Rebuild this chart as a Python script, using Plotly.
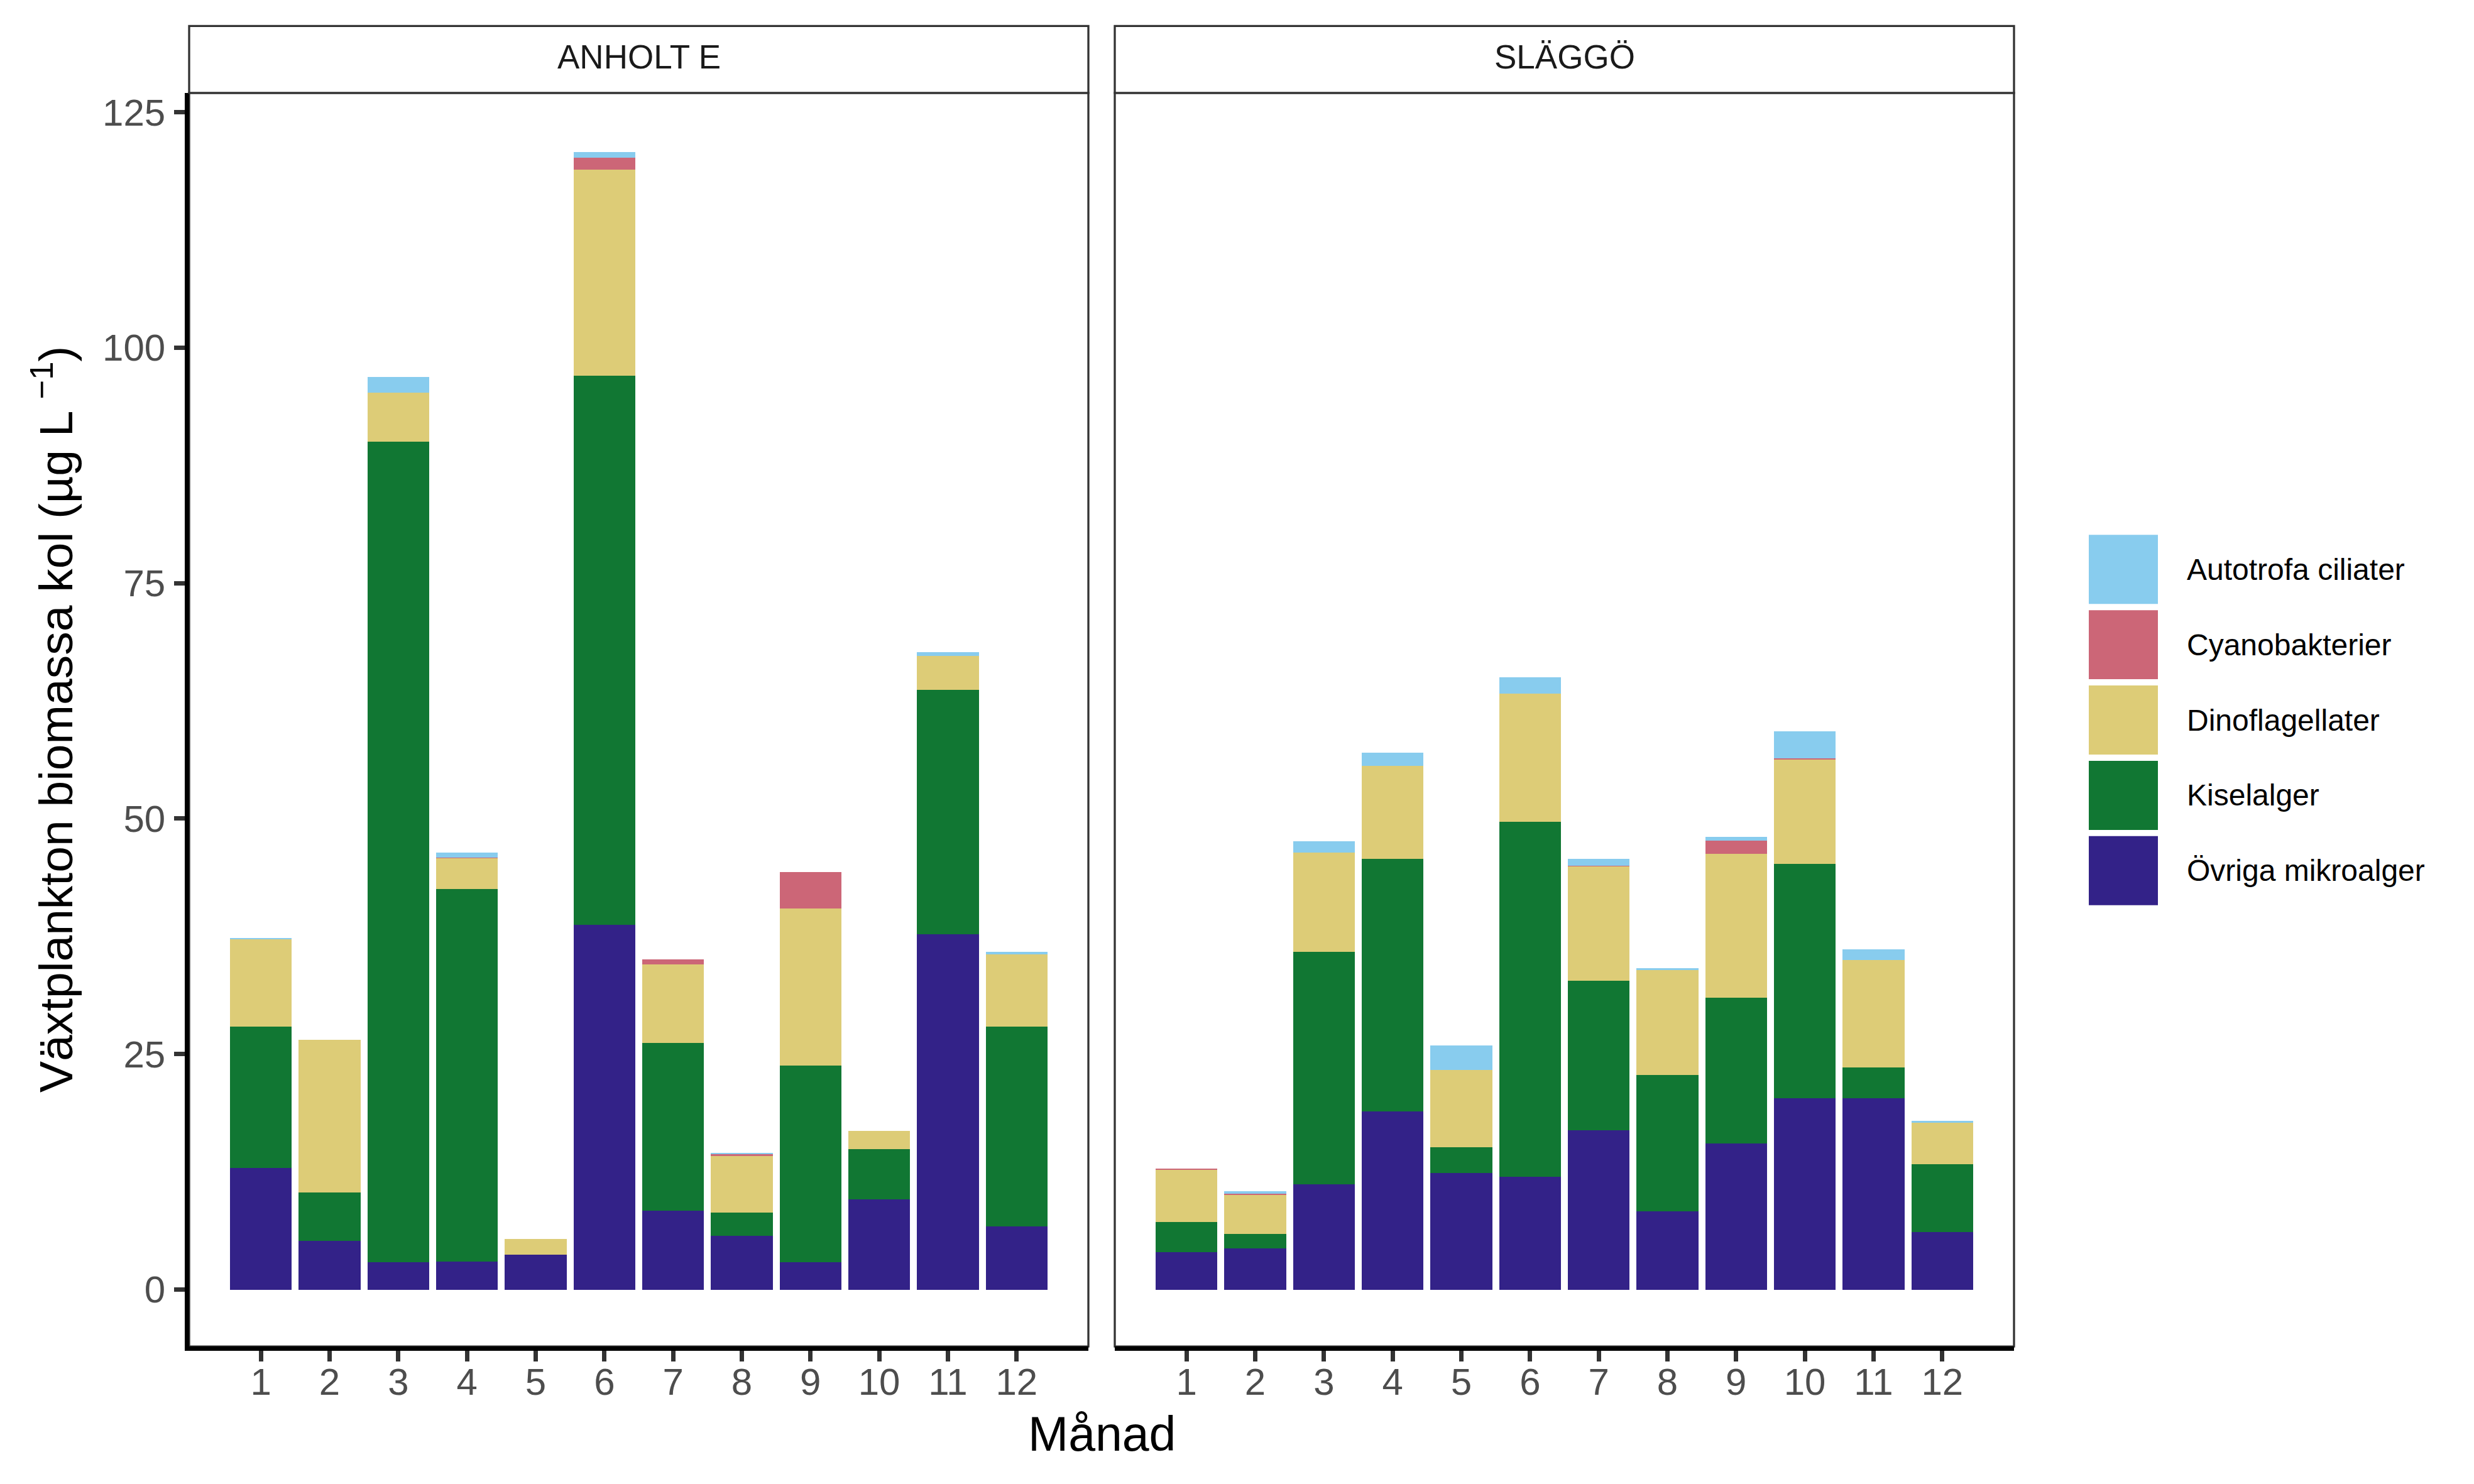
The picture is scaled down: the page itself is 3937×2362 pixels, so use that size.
import plotly.graph_objects as go

W, H = 3937, 2362

months = list(range(1, 13))
stations = ["ANHOLT E", "SLÄGGÖ"]
series_names = ["Övriga mikroalger", "Kiselalger", "Dinoflagellater", "Cyanobakterier", "Autotrofa ciliater"]
series_colors = ["#332288", "#117733", "#DDCC77", "#CC6677", "#88CCEE"]

# ANHOLT E (µg C/L per group, stacked bottom -> top)
anholt_ovriga = [12.9, 5.2, 2.9, 3.0, 3.7, 38.7, 8.4, 5.7, 2.9, 9.6, 37.7, 6.7]
anholt_kisel = [15.0, 5.1, 87.1, 39.5, 0.0, 58.3, 17.8, 2.5, 20.9, 5.3, 26.0, 21.2]
anholt_dino = [9.3, 16.2, 5.2, 3.35, 1.65, 21.9, 8.3, 6.0, 16.65, 1.95, 3.6, 7.7]
anholt_cyano = [0.0, 0.0, 0.0, 0.05, 0.0, 1.3, 0.55, 0.15, 3.9, 0.0, 0.0, 0.0]
anholt_auto = [0.15, 0.0, 1.7, 0.5, 0.0, 0.6, 0.0, 0.15, 0.0, 0.0, 0.4, 0.25]

# SLÄGGÖ
slaggo_ovriga = [4.0, 4.4, 11.2, 18.9, 12.35, 12.0, 16.9, 8.3, 15.5, 20.3, 20.3, 6.1]
slaggo_kisel = [3.2, 1.5, 24.65, 26.85, 2.75, 37.65, 15.9, 14.5, 15.5, 24.9, 3.3, 7.2]
slaggo_dino = [5.5, 4.2, 10.55, 9.85, 8.2, 13.65, 12.15, 11.1, 15.3, 11.1, 11.4, 4.45]
slaggo_cyano = [0.15, 0.05, 0.0, 0.0, 0.0, 0.0, 0.05, 0.0, 1.4, 0.1, 0.0, 0.0]
slaggo_auto = [0.0, 0.3, 1.2, 1.4, 2.65, 1.7, 0.75, 0.2, 0.35, 2.9, 1.1, 0.2]

y_ticks = [0, 25, 50, 75, 100, 125]

panel_data = [
    [anholt_ovriga, anholt_kisel, anholt_dino, anholt_cyano, anholt_auto],
    [slaggo_ovriga, slaggo_kisel, slaggo_dino, slaggo_cyano, slaggo_auto],
]

FONT = "Liberation Sans, Arial, Helvetica, sans-serif"


def px_x(px):
    return px / W


def px_y(py):
    return 1 - py / H


fig = go.Figure()
axes = [("x", "y"), ("x2", "y2")]
for p, (xa, ya) in enumerate(axes):
    for s, name in enumerate(series_names):
        fig.add_trace(go.Bar(
            x=months, y=panel_data[p][s], name=name, width=0.9,
            marker=dict(color=series_colors[s], line=dict(width=0)),
            xaxis=xa, yaxis=ya, showlegend=False,
        ))

panel_top, panel_bot = 146, 2143
x_domains = [[px_x(301), px_x(1732)], [px_x(1774), px_x(3205)]]
y_domain = [px_y(panel_bot), px_y(panel_top)]

tick_common = dict(ticks="outside", ticklen=17, tickwidth=7, tickcolor="#333333",
                   tickfont=dict(family=FONT, size=60, color="#4D4D4D"),
                   showgrid=False, zeroline=False)

fig.update_layout(
    width=W, height=H, margin=dict(l=0, r=0, t=0, b=0),
    paper_bgcolor="white", plot_bgcolor="white", barmode="stack", bargap=0,
    font=dict(family=FONT),
    xaxis=dict(domain=x_domains[0], range=[-0.045, 13.045], tickvals=months, anchor="y",
               showline=True, linecolor="black", linewidth=6.6, ticklabelstandoff=-19, **tick_common),
    xaxis2=dict(domain=x_domains[1], range=[-0.045, 13.045], tickvals=months, anchor="y2",
                showline=True, linecolor="black", linewidth=6.6, ticklabelstandoff=-19, **tick_common),
    yaxis=dict(domain=y_domain, range=[-6.05, 127.05], tickvals=y_ticks, anchor="x",
               showline=True, linecolor="black", linewidth=6.6, ticklabelstandoff=2, **tick_common),
    yaxis2=dict(domain=y_domain, range=[-6.05, 127.05], anchor="x2", matches="y",
                showticklabels=False, ticks="", showline=False, showgrid=False, zeroline=False),
)

shapes = []
annotations = []
for p, (xa, ya) in enumerate(axes):
    # panel border
    shapes.append(dict(type="rect", xref=f"{xa} domain", yref=f"{ya} domain",
                       x0=0, x1=1, y0=0, y1=1, line=dict(color="#333333", width=3.3),
                       fillcolor="rgba(0,0,0,0)", layer="below"))
    # strip
    shapes.append(dict(type="rect", xref=f"{xa} domain", yref="paper",
                       x0=0, x1=1, y0=px_y(146), y1=px_y(39.5),
                       line=dict(color="#333333", width=3.3), fillcolor="white", layer="above"))
    annotations.append(dict(text=stations[p], xref=f"{xa} domain", yref="paper",
                            x=0.5, y=px_y(89), showarrow=False, xanchor="center", yanchor="middle",
                            font=dict(family=FONT, size=53, color="#1A1A1A")))

# legend (drawn manually, top to bottom)
legend_order = [4, 3, 2, 1, 0]
for i, s in enumerate(legend_order):
    top = 850 + 120 * i
    shapes.append(dict(type="rect", xref="paper", yref="paper",
                       x0=px_x(3324), x1=px_x(3434), y0=px_y(top + 110), y1=px_y(top),
                       line=dict(width=0), fillcolor=series_colors[s]))
    annotations.append(dict(text=series_names[s], xref="paper", yref="paper",
                            x=px_x(3478), y=px_y(top + 55), showarrow=False,
                            xanchor="left", yanchor="middle",
                            font=dict(family=FONT, size=48, color="black")))

# axis titles
annotations.append(dict(text="Månad", xref="paper", yref="paper", x=px_x(1753), y=px_y(2282),
                        showarrow=False, xanchor="center", yanchor="middle",
                        font=dict(family=FONT, size=77, color="black")))
annotations.append(dict(text="Växtplankton biomassa kol (µg L <sup>−1</sup>)", xref="paper", yref="paper",
                        x=px_x(84), y=px_y(1144), showarrow=False, textangle=-90,
                        xanchor="center", yanchor="middle",
                        font=dict(family=FONT, size=75, color="black")))

fig.update_layout(shapes=shapes, annotations=annotations)

fig.write_html("out.html", post_script="document.body.style.margin='0';",
               config={"displayModeBar": False})
